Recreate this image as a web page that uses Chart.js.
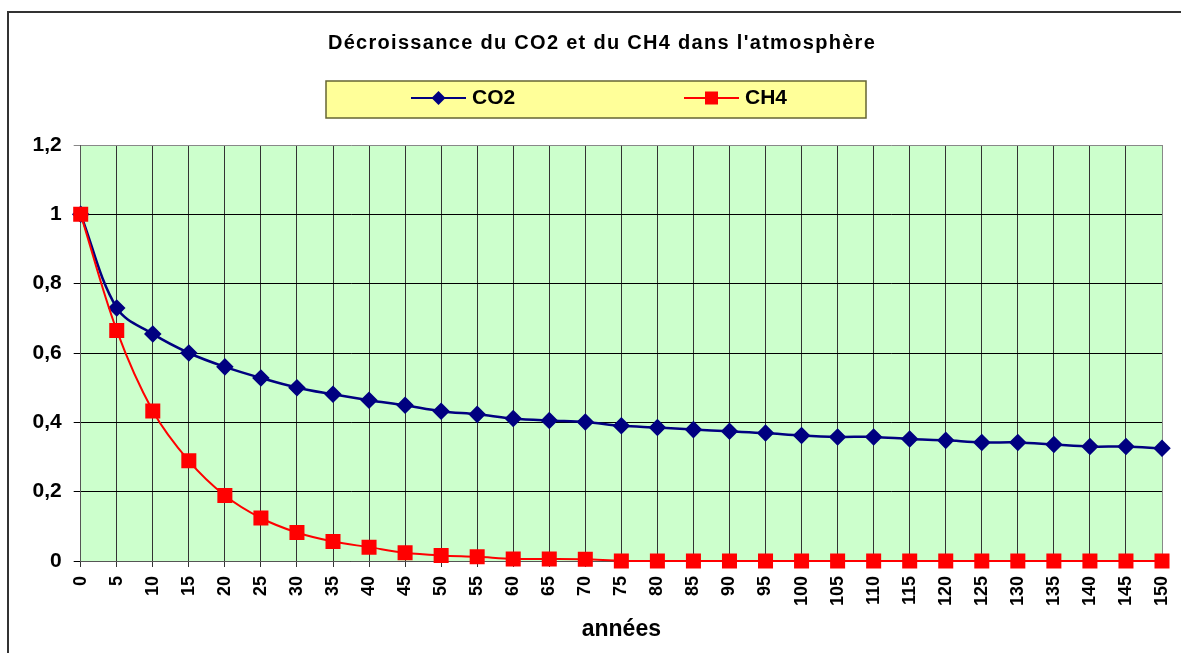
<!DOCTYPE html>
<html>
<head>
<meta charset="utf-8">
<script src="https://cdn.jsdelivr.net/npm/chart.js@4/dist/chart.umd.min.js"></script>
<style>
  body { margin: 0; background: #fff; overflow: hidden; }
</style>
</head>
<body>
<canvas id="graphique" width="1181" height="653"></canvas>
<script>
const titre = "Décroissance du CO2 et du CH4 dans l'atmosphère";
const annees = ['0', '5', '10', '15', '20', '25', '30', '35', '40', '45', '50', '55', '60', '65', '70', '75',
  '80', '85', '90', '95', '100', '105', '110', '115', '120', '125', '130', '135', '140', '145', '150'];
const co2 = [1, 0.73, 0.655, 0.6, 0.56, 0.528, 0.5, 0.481, 0.464, 0.449, 0.432, 0.423, 0.411, 0.405, 0.401, 0.39,
  0.385, 0.379, 0.374, 0.369, 0.362, 0.358, 0.358, 0.352, 0.348, 0.342, 0.342, 0.336, 0.33, 0.33, 0.325];
const ch4 = [1, 0.665, 0.433, 0.289, 0.189, 0.124, 0.082, 0.056, 0.04, 0.024, 0.016, 0.012, 0.006, 0.006, 0.005, 0,
  0, 0, 0, 0, 0, 0, 0, 0, 0, 0, 0, 0, 0, 0, 0];
const yTicks = [0, 0.2, 0.4, 0.6, 0.8, 1, 1.2];

const police = 'Liberation Sans, Arial, sans-serif';

// fond, cadre, titre et legende facon Excel
const decor = {
  id: 'decor',
  beforeDraw(chart) {
    const { ctx, chartArea: a } = chart;
    ctx.save();
    ctx.fillStyle = '#fff';
    ctx.fillRect(0, 0, chart.width, chart.height);
    ctx.strokeStyle = '#333';
    ctx.lineWidth = 2;
    ctx.strokeRect(8, 12, chart.width + 30, chart.height + 30);
    ctx.fillStyle = '#CCFFCC';
    ctx.fillRect(a.left, a.top, a.right - a.left, a.bottom - a.top);
    ctx.restore();
  },
  afterDraw(chart) {
    const ctx = chart.ctx;
    ctx.save();
    ctx.fillStyle = '#000';
    ctx.font = 'bold 20px ' + police;
    ctx.textBaseline = 'middle';
    ctx.textAlign = 'center';
    ctx.letterSpacing = '1.3px';
    ctx.fillText(titre, 602, 43);
    ctx.letterSpacing = '0px';

    ctx.fillStyle = '#FFFF99';
    ctx.fillRect(326, 81, 540, 37);
    ctx.strokeStyle = '#666633';
    ctx.lineWidth = 1.5;
    ctx.strokeRect(326, 81, 540, 37);

    const y = 98;
    const departs = [411, 684];
    chart.data.datasets.forEach((ds, i) => {
      const x0 = departs[i];
      ctx.strokeStyle = ds.borderColor;
      ctx.lineWidth = 2;
      ctx.beginPath();
      ctx.moveTo(x0, y);
      ctx.lineTo(x0 + 55, y);
      ctx.stroke();

      const cx = x0 + 27.5;
      ctx.fillStyle = ds.pointBackgroundColor;
      ctx.beginPath();
      if (ds.pointStyle === 'rectRot') {
        ctx.moveTo(cx, y - 7);
        ctx.lineTo(cx + 7, y);
        ctx.lineTo(cx, y + 7);
        ctx.lineTo(cx - 7, y);
        ctx.closePath();
      } else {
        ctx.rect(cx - 6.5, y - 6.5, 13, 13);
      }
      ctx.fill();

      ctx.fillStyle = '#000';
      ctx.font = 'bold 21px ' + police;
      ctx.textBaseline = 'middle';
      ctx.textAlign = 'left';
      ctx.fillText(ds.label, x0 + 61, y);
    });
    ctx.restore();
  }
};

const config = {
  type: 'line',
  data: {
    labels: annees,
    datasets: [{
      label: 'CO2',
      data: co2,
      borderColor: '#000080',
      backgroundColor: '#000080',
      pointBackgroundColor: '#000080',
      pointBorderColor: '#000080',
      pointStyle: 'rectRot',
      pointRadius: 7,
      borderWidth: 2.5,
      tension: 0.35,
      clip: false,
      order: 1
    }, {
      label: 'CH4',
      data: ch4,
      borderColor: '#FF0000',
      backgroundColor: '#FF0000',
      pointBackgroundColor: '#FF0000',
      pointBorderColor: '#FF0000',
      pointStyle: 'rect',
      pointRadius: 9.2,
      borderWidth: 2,
      tension: 0.35,
      clip: false,
      order: 0
    }]
  },
  options: {
    responsive: false,
    animation: false,
    events: [],
    layout: { padding: { left: 10, right: 19, top: 145, bottom: 0 } },
    plugins: {
      legend: { display: false },
      tooltip: { enabled: false },
      title: { display: false }
    },
    scales: {
      x: {
        offset: false,
        grid: {
          color: (c) => c.index === annees.length - 1 ? '#888' : '#333',
          tickLength: 6
        },
        border: { color: '#555' },
        ticks: {
          autoSkip: false,
          minRotation: 90,
          maxRotation: 90,
          padding: 9,
          color: '#000',
          font: { family: police, size: 18, weight: 'bold' }
        },
        title: {
          display: true,
          text: 'années',
          color: '#000',
          font: { family: police, size: 23, weight: 'bold' },
          padding: { top: 0, bottom: 10 }
        },
        afterFit: (s) => { s.height = 92; s.paddingLeft = 0; s.paddingRight = 0; }
      },
      y: {
        min: 0,
        max: 1.2,
        afterBuildTicks: (s) => { s.ticks = yTicks.map((v) => ({ value: v })); },
        grid: {
          color: (c) => c.tick && c.tick.value === 1.2 ? '#888' : '#000',
          tickLength: 7
        },
        border: { color: '#555' },
        ticks: {
          padding: 12,
          color: '#000',
          font: { family: police, size: 21, weight: 'bold' },
          callback: (v) => v.toLocaleString('fr-FR')
        },
        afterFit: (s) => { s.width = 70.7; s.paddingTop = 0; s.paddingBottom = 0; }
      }
    }
  },
  plugins: [decor]
};

new Chart(document.getElementById('graphique'), config);
</script>
</body>
</html>
